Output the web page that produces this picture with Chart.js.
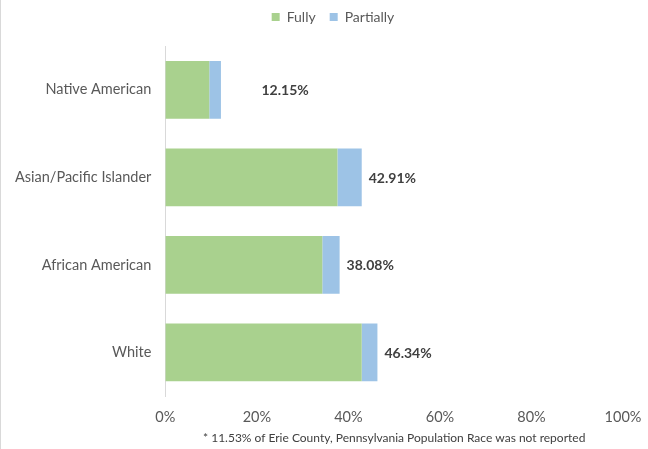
<!DOCTYPE html>
<html>
<head>
<meta charset="utf-8">
<script src="https://cdn.jsdelivr.net/npm/chart.js@4"></script>
<style>
  html, body { margin: 0; padding: 0; background: #fff; }
  #wrap { width: 648px; height: 449px; position: relative; box-sizing: border-box; border-left: 1px solid #d9d9d9; }
</style>
</head>
<body>
<div id="wrap"><canvas id="chart"></canvas></div>
<script>
// Vaccination by race – Erie County
const categories = ['Native American', 'Asian/Pacific Islander', 'African American', 'White'];
const fully      = [9.6, 37.6, 34.3, 42.9];
const partially  = [2.55, 5.31, 3.78, 3.44];
const totals     = ['12.15%', '42.91%', '38.08%', '46.34%'];
const xTicks     = [0, 20, 40, 60, 80, 100];
const footnote   = '* 11.53% of Erie County, Pennsylvania Population Race was not reported';

const FONT = "Lato, 'Open Sans', sans-serif";

// total label after the end of each stacked bar
const totalLabels = {
  id: 'totalLabels',
  afterDatasetsDraw(chart) {
    const { ctx, scales: { x } } = chart;
    const meta = chart.getDatasetMeta(1);
    ctx.save();
    ctx.font = `bold 14px ${FONT}`;
    ctx.fillStyle = '#404040';
    ctx.textBaseline = 'middle';
    meta.data.forEach((bar, i) => {
      const px = Math.max(bar.x + 7, x.getPixelForValue(21));
      ctx.fillText(totals[i], px, bar.y + 1);
    });
    ctx.restore();
  }
};

// extra gap under the legend, and nudge it right a bit
const legendGap = {
  id: 'legendGap',
  beforeLayout(chart) {
    const lg = chart.legend;
    if (lg && !lg._gap) {
      const fit = lg.fit;
      const draw = lg.draw;
      lg.fit = function () { fit.call(this); this.height += 12; };
      lg.draw = function (area) {
        this.ctx.save();
        this.ctx.translate(10, 0);
        draw.call(this, area);
        this.ctx.restore();
      };
      lg._gap = true;
    }
  }
};

new Chart(document.getElementById('chart'), {
  type: 'bar',
  data: {
    labels: categories,
    datasets: [
      { label: 'Fully',     data: fully,     backgroundColor: '#a9d18e', barPercentage: 0.66, categoryPercentage: 1 },
      { label: 'Partially', data: partially, backgroundColor: '#9dc3e6', barPercentage: 0.66, categoryPercentage: 1 }
    ]
  },
  options: {
    indexAxis: 'y',
    responsive: true,
    maintainAspectRatio: false,
    animation: false,
    layout: { padding: { left: 0, right: 3, top: -4, bottom: 4 } },
    scales: {
      x: {
        stacked: true,
        min: 0,
        max: 100,
        afterBuildTicks: axis => { axis.ticks = xTicks.map(v => ({ value: v })); },
        afterFit: axis => { axis.paddingRight = 25; },
        grid: { display: false, drawTicks: false },
        border: { display: false },
        ticks: { color: '#595959', font: { size: 14.5, family: FONT }, padding: 12, callback: v => v + '%' },
        title: { display: true, text: footnote, color: '#404040', font: { size: 12, family: FONT }, padding: { top: -7, bottom: 0 } }
      },
      y: {
        stacked: true,
        grid: { display: false, drawTicks: false },
        border: { display: true, color: '#d9d9d9' },
        ticks: { color: '#595959', font: { size: 14.5, family: FONT }, padding: 14 }
      }
    },
    plugins: {
      legend: {
        position: 'top',
        labels: { boxWidth: 8, boxHeight: 8, color: '#595959', font: { size: 14, family: FONT }, padding: 14 }
      },
      tooltip: { enabled: false }
    }
  },
  plugins: [totalLabels, legendGap]
});
</script>
</body>
</html>
